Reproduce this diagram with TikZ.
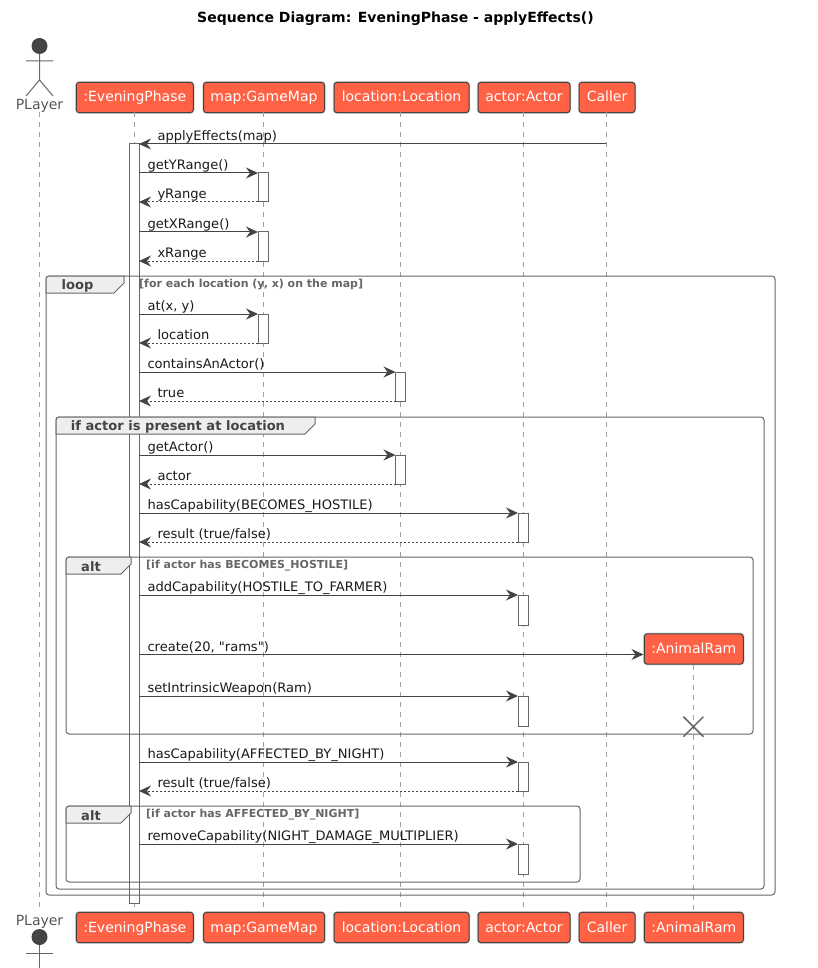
\documentclass[tikz,border=0pt]{standalone}
\usepackage{fontspec}
\setmainfont{DejaVu Sans}
\newfontfamily\plainfont{DejaVu Sans}
\usetikzlibrary{arrows.meta,shapes.misc}
\definecolor{tomatofill}{HTML}{FF6145}
\definecolor{inkline}{HTML}{444444}
\definecolor{midline}{HTML}{555555}
\definecolor{frameline}{HTML}{666666}
\definecolor{dashline}{HTML}{A0A0A0}
\definecolor{tabfill}{HTML}{EEEEEE}

\newcommand{\msgsize}{\fontsize{13.05}{15}\selectfont}
\newcommand{\boxsize}{\fontsize{14}{16}\selectfont}
\newcommand{\guardsize}{\fontsize{11}{13}\selectfont\bfseries}

% tab of a frame: corner x, top y, right x
\newcommand{\frametab}[5]{
    \draw[frameedge, fill=tabfill] (#1,#2+17) [rounded corners=3pt] -- (#1,#2) [sharp corners] -- (#3,#2) -- (#3,#2+7) -- (#3-10,#2+17) -- cycle;
    \node[tabtext] (#4) at ({(#1+#3-15)/2},#2+9.5) {#5};
}

\begin{document}
\begin{tikzpicture}[
    x=1pt, y=-1pt,
    participant/.style={rectangle, rounded corners=3pt, draw=inkline, line width=1pt, fill=tomatofill, text=white, font=\boxsize, inner sep=0pt, text height=10pt, text depth=1pt, minimum height=30.4pt, preaction={draw=black!18, line width=2.4pt}},
    activation/.style={rectangle, draw=frameline, line width=1pt, fill=white, inner sep=0pt, outer sep=0pt, minimum width=10pt},
    lifeline/.style={draw=dashline, line width=1pt, dash pattern=on 5pt off 5pt},
    call/.style={draw=inkline, line width=1pt, -{Stealth[length=12pt, width=11pt, inset=4pt]}},
    reply/.style={draw=inkline, line width=1pt, dash pattern=on 2pt off 2pt, -{Stealth[length=12pt, width=11pt, inset=4pt, sep=0pt]}},
    msgtext/.style={font=\msgsize, text=black!90, inner sep=0pt, anchor=south west, text height=10pt, text depth=3pt},
    frameedge/.style={draw=frameline, line width=1pt},
    tabtext/.style={font=\msgsize\bfseries, text=inkline, inner sep=0pt},
    guard/.style={font=\guardsize, text=frameline, inner sep=0pt, anchor=west},
    stick/.style={draw=frameline, line width=1pt},
    playertext/.style={font=\boxsize, text=midline, inner sep=0pt}
]

\useasboundingbox (0,0) rectangle (818,968);

\node[font=\boxsize\bfseries, text=black, inner sep=0pt] (title) at (395.5,18.5) {Sequence Diagram: EveningPhase - applyEffects()};

% Participants
\node[playertext] (player) at (39.5,105.5) {PLayer};
\node[participant, minimum width=117pt] (evening) at (134.8,97.5) {:EveningPhase};
\node[participant, minimum width=121pt] (gamemap) at (264,97.5) {map:GameMap};
\node[participant, minimum width=135pt] (location) at (401.5,97.5) {location:Location};
\node[participant, minimum width=92pt] (actor) at (524,97.5) {actor:Actor};
\node[participant, minimum width=56pt] (caller) at (607,97.5) {Caller};

\node[playertext] (playerb) at (39.5,921.5) {PLayer};
\node[participant, minimum width=117pt] (eveningb) at (134.8,927.5) {:EveningPhase};
\node[participant, minimum width=121pt] (gamemapb) at (264,927.5) {map:GameMap};
\node[participant, minimum width=135pt] (locationb) at (401.5,927.5) {location:Location};
\node[participant, minimum width=92pt] (actorb) at (524,927.5) {actor:Actor};
\node[participant, minimum width=56pt] (callerb) at (607,927.5) {Caller};
\node[participant, minimum width=99pt] (ramb) at (693.8,927.5) {:AnimalRam};

% Lifelines
\draw[lifeline] (39.5,112) -- (39.5,910);
\draw[lifeline] (134,112) -- (134,910);
\draw[lifeline] (263,112) -- (263,910);
\draw[lifeline] (400.5,112) -- (400.5,910);
\draw[lifeline] (523,112) -- (523,910);
\draw[lifeline] (606,112) -- (606,910);
\draw[lifeline] (693.5,665) -- (693.5,910);

\node[participant, minimum width=99pt] (ram) at (693.8,649) {:AnimalRam};

% Actor figures
\fill[inkline] (39.5,46) circle (8);
\draw[stick] (26,61) -- (53,61) (39.5,54) -- (39.5,80) -- (26,96) (39.5,80) -- (53,96);
\fill[inkline] (39.5,937) circle (8);
\draw[stick] (26,953) -- (53,953) (39.5,945) -- (39.5,968);

% Activations
\node[activation, minimum height=759pt] (main) at (134,523.5) {};
\foreach \nm/\xx/\ya/\yb in {
    ya/263/173/202, xa/263/232/261, at/263/314/343,
    has/400.5/372/401, get/400.5/455/484,
    hostile/523/513/542, add/523/595/625, weapon/523/696/726,
    night/523/762/791, remove/523/844/874}
    \node[activation, minimum height={\yb-\ya}] (\nm) at (\xx,{(\ya+\yb)/2}) {};

% Frames
\draw[frameedge, rounded corners=3pt] (46,276) rectangle (775,895);
\draw[frameedge, rounded corners=3pt] (56,417) rectangle (764,889);
\draw[frameedge, rounded corners=3pt] (66,557) rectangle (753,734);
\draw[frameedge, rounded corners=3pt] (66,806) rectangle (580,882);
\frametab{46}{276}{124}{looptab}{loop}
\frametab{56}{417}{315}{iftab}{if actor is present at location}
\frametab{66}{557}{131}{alttaba}{alt}
\frametab{66}{806}{131}{alttabb}{alt}
\node[guard] (loopguard) at (139,284.5) {[for each location (y, x) on the map]};
\node[guard] (altguarda) at (146,565.5) {[if actor has BECOMES\_HOSTILE]};
\node[guard] (altguardb) at (146,815) {[if actor has AFFECTED\_BY\_NIGHT]};

\node[cross out, draw=frameline, line width=1.5pt, inner sep=0pt, outer sep=0pt, minimum size=20pt] (ramx) at (693.4,726.7) {};

% Messages
\coordinate (callerpt) at (606,144);
\coordinate (ramin) at (643.5,654.5);
\draw[call] (callerpt) -- (main.north east) node[msgtext, at end, xshift=18pt, yshift=0pt] {applyEffects(map)};

\draw[call] (main.east |- ya.north) -- (ya.north west) node[msgtext, at start, xshift=8pt] {getYRange()};
\draw[reply] (ya.south west) -- (main.east |- ya.south) node[msgtext, at end, xshift=18pt] {yRange};
\draw[call] (main.east |- xa.north) -- (xa.north west) node[msgtext, at start, xshift=8pt] {getXRange()};
\draw[reply] (xa.south west) -- (main.east |- xa.south) node[msgtext, at end, xshift=18pt] {xRange};
\draw[call] (main.east |- at.north) -- (at.north west) node[msgtext, at start, xshift=8pt] {at(x, y)};
\draw[reply] (at.south west) -- (main.east |- at.south) node[msgtext, at end, xshift=18pt] {location};
\draw[call] (main.east |- has.north) -- (has.north west) node[msgtext, at start, xshift=8pt] {containsAnActor()};
\draw[reply] (has.south west) -- (main.east |- has.south) node[msgtext, at end, xshift=18pt] {true};
\draw[call] (main.east |- get.north) -- (get.north west) node[msgtext, at start, xshift=8pt] {getActor()};
\draw[reply] (get.south west) -- (main.east |- get.south) node[msgtext, at end, xshift=18pt] {actor};
\draw[call] (main.east |- hostile.north) -- (hostile.north west) node[msgtext, at start, xshift=8pt] {hasCapability(BECOMES\_HOSTILE)};
\draw[reply] (hostile.south west) -- (main.east |- hostile.south) node[msgtext, at end, xshift=18pt] {result (true/false)};
\draw[call] (main.east |- add.north) -- (add.north west) node[msgtext, at start, xshift=8pt] {addCapability(HOSTILE\_TO\_FARMER)};
\draw[call] (main.east |- ramin) -- (ramin) node[msgtext, at start, xshift=8pt] {\plainfont create(20, "rams")};
\draw[call] (main.east |- weapon.north) -- (weapon.north west) node[msgtext, at start, xshift=8pt] {setIntrinsicWeapon(Ram)};
\draw[call] (main.east |- night.north) -- (night.north west) node[msgtext, at start, xshift=8pt] {hasCapability(AFFECTED\_BY\_NIGHT)};
\draw[reply] (night.south west) -- (main.east |- night.south) node[msgtext, at end, xshift=18pt] {result (true/false)};
\draw[call] (main.east |- remove.north) -- (remove.north west) node[msgtext, at start, xshift=8pt] {removeCapability(NIGHT\_DAMAGE\_MULTIPLIER)};

\end{tikzpicture}
\end{document}
